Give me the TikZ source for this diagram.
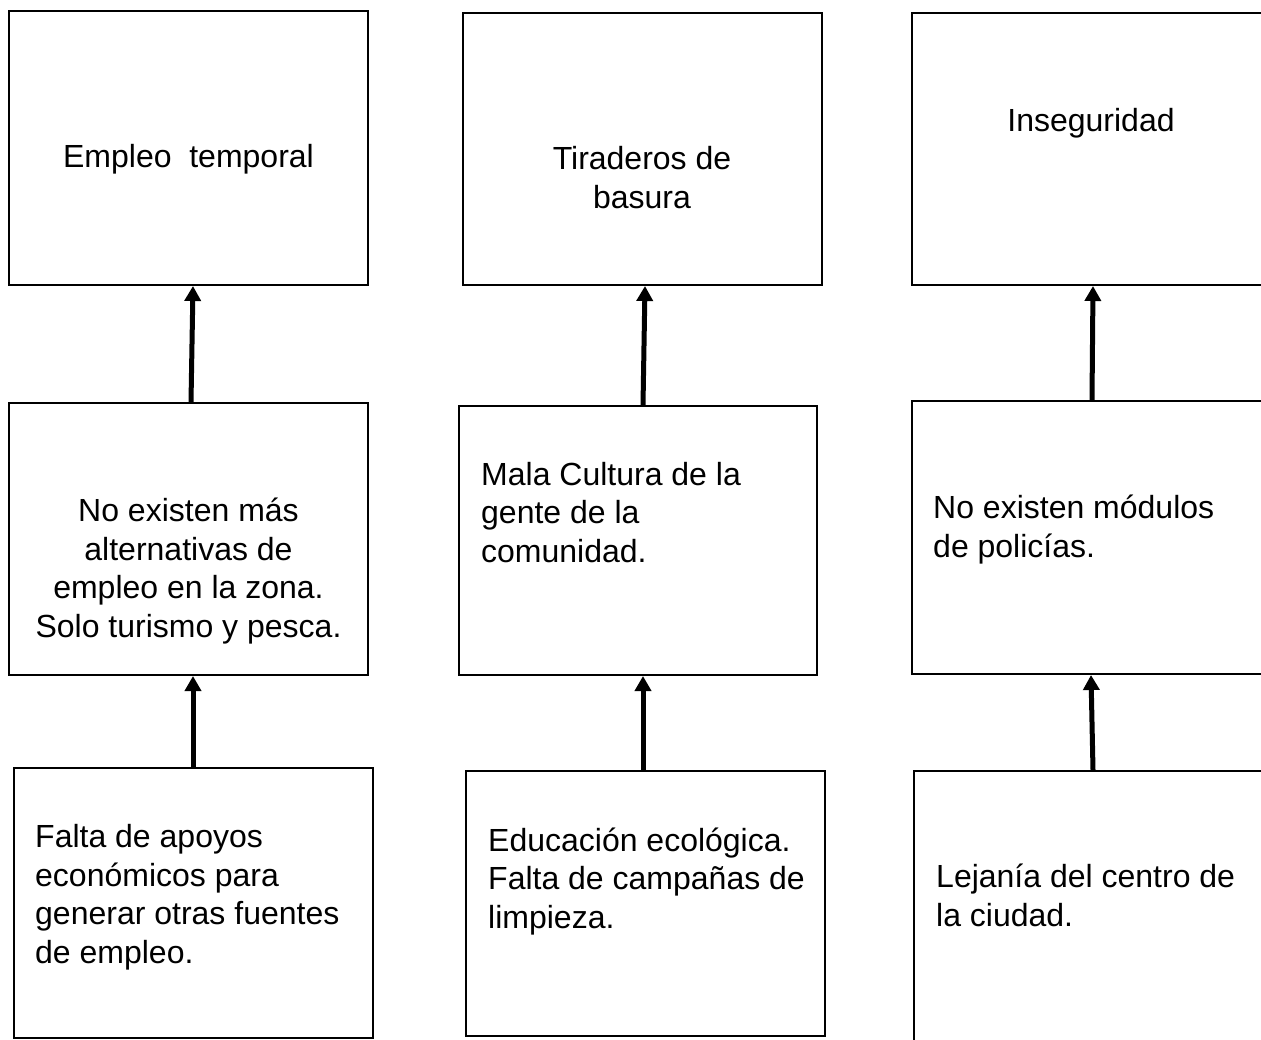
\documentclass[tikz,border=0pt]{standalone}
\usepackage{fontspec}
\setmainfont{Liberation Sans}
\usetikzlibrary{arrows.meta}

\begin{document}
\begin{tikzpicture}[x=1pt, y=-1pt,
        caja/.style={draw, line width=2pt, minimum width=359pt, inner sep=0pt},
        texto/.style={inner sep=0pt, font=\fontsize{32}{38.5}\selectfont},
        flecha/.style={line width=5pt, -{Triangle[length=15pt, width=16pt]}}]
        \clip (0, 0) rectangle (1261, 1039);

        \node[caja, minimum height=274pt] (A1) at (188.5, 148) {};
        \node[caja, minimum height=272pt] (B1) at (642.5, 149) {};
        \node[caja, minimum height=272pt] (C1) at (1091.5, 149) {};

        \node[caja, minimum height=272pt] (A2) at (188.5, 539) {};
        \node[caja, minimum width=358pt, minimum height=269pt] (B2) at (638, 540.5) {};
        \node[caja, minimum height=273pt] (C2) at (1091.5, 537.5) {};

        \node[caja, minimum height=270pt] (A3) at (193.5, 903) {};
        \node[caja, minimum height=265pt] (B3) at (645.5, 903.5) {};
        \node[caja, minimum height=270pt] (C3) at (1093.5, 906) {};

        % base = baseline of the last line
        \node[texto, anchor=base] (tA1) at (188.5, 167) {Empleo\ \ temporal};
        \node[texto, anchor=base, align=center] (tB1) at (642, 208) {Tiraderos de\\basura};
        \node[texto, anchor=base] (tC1) at (1091, 131) {Inseguridad};

        \node[texto, anchor=base, align=center] (tA2) at (188.5, 637) {No existen más\\alternativas de\\empleo en la zona.\\Solo turismo y pesca.};
        \node[texto, anchor=base west, align=left] (tB2) at (481, 562) {Mala Cultura de la\\gente de la\\comunidad.};
        \node[texto, anchor=base west, align=left] (tC2) at (933, 557) {No existen módulos\\de policías.};

        \node[texto, anchor=base west, align=left] (tA3) at (35, 963) {Falta de apoyos\\económicos para\\generar otras fuentes\\de empleo.};
        \node[texto, anchor=base west, align=left] (tB3) at (488, 928) {Educación ecológica.\\Falta de campañas de\\limpieza.};
        \node[texto, anchor=base west, align=left] (tC3) at (936, 926) {Lejanía del centro de\\la ciudad.};

        \draw[flecha] ([xshift=2.5pt]A2.north) -- ([xshift=4.5pt]A1.south);
        \draw[flecha] ([xshift=5pt]B2.north) -- ([xshift=2.5pt]B1.south);
        \draw[flecha] ([xshift=0.5pt]C2.north) -- ([xshift=1.5pt]C1.south);

        \draw[flecha] ([xshift=-0.5pt]A3.north) -- ([xshift=4.5pt]A2.south);
        \draw[flecha] ([xshift=-2.5pt]B3.north) -- ([xshift=5pt]B2.south);
        \draw[flecha] ([xshift=-0.5pt]C3.north) -- ([xshift=-0.5pt]C2.south);
    \end{tikzpicture}
\end{document}
